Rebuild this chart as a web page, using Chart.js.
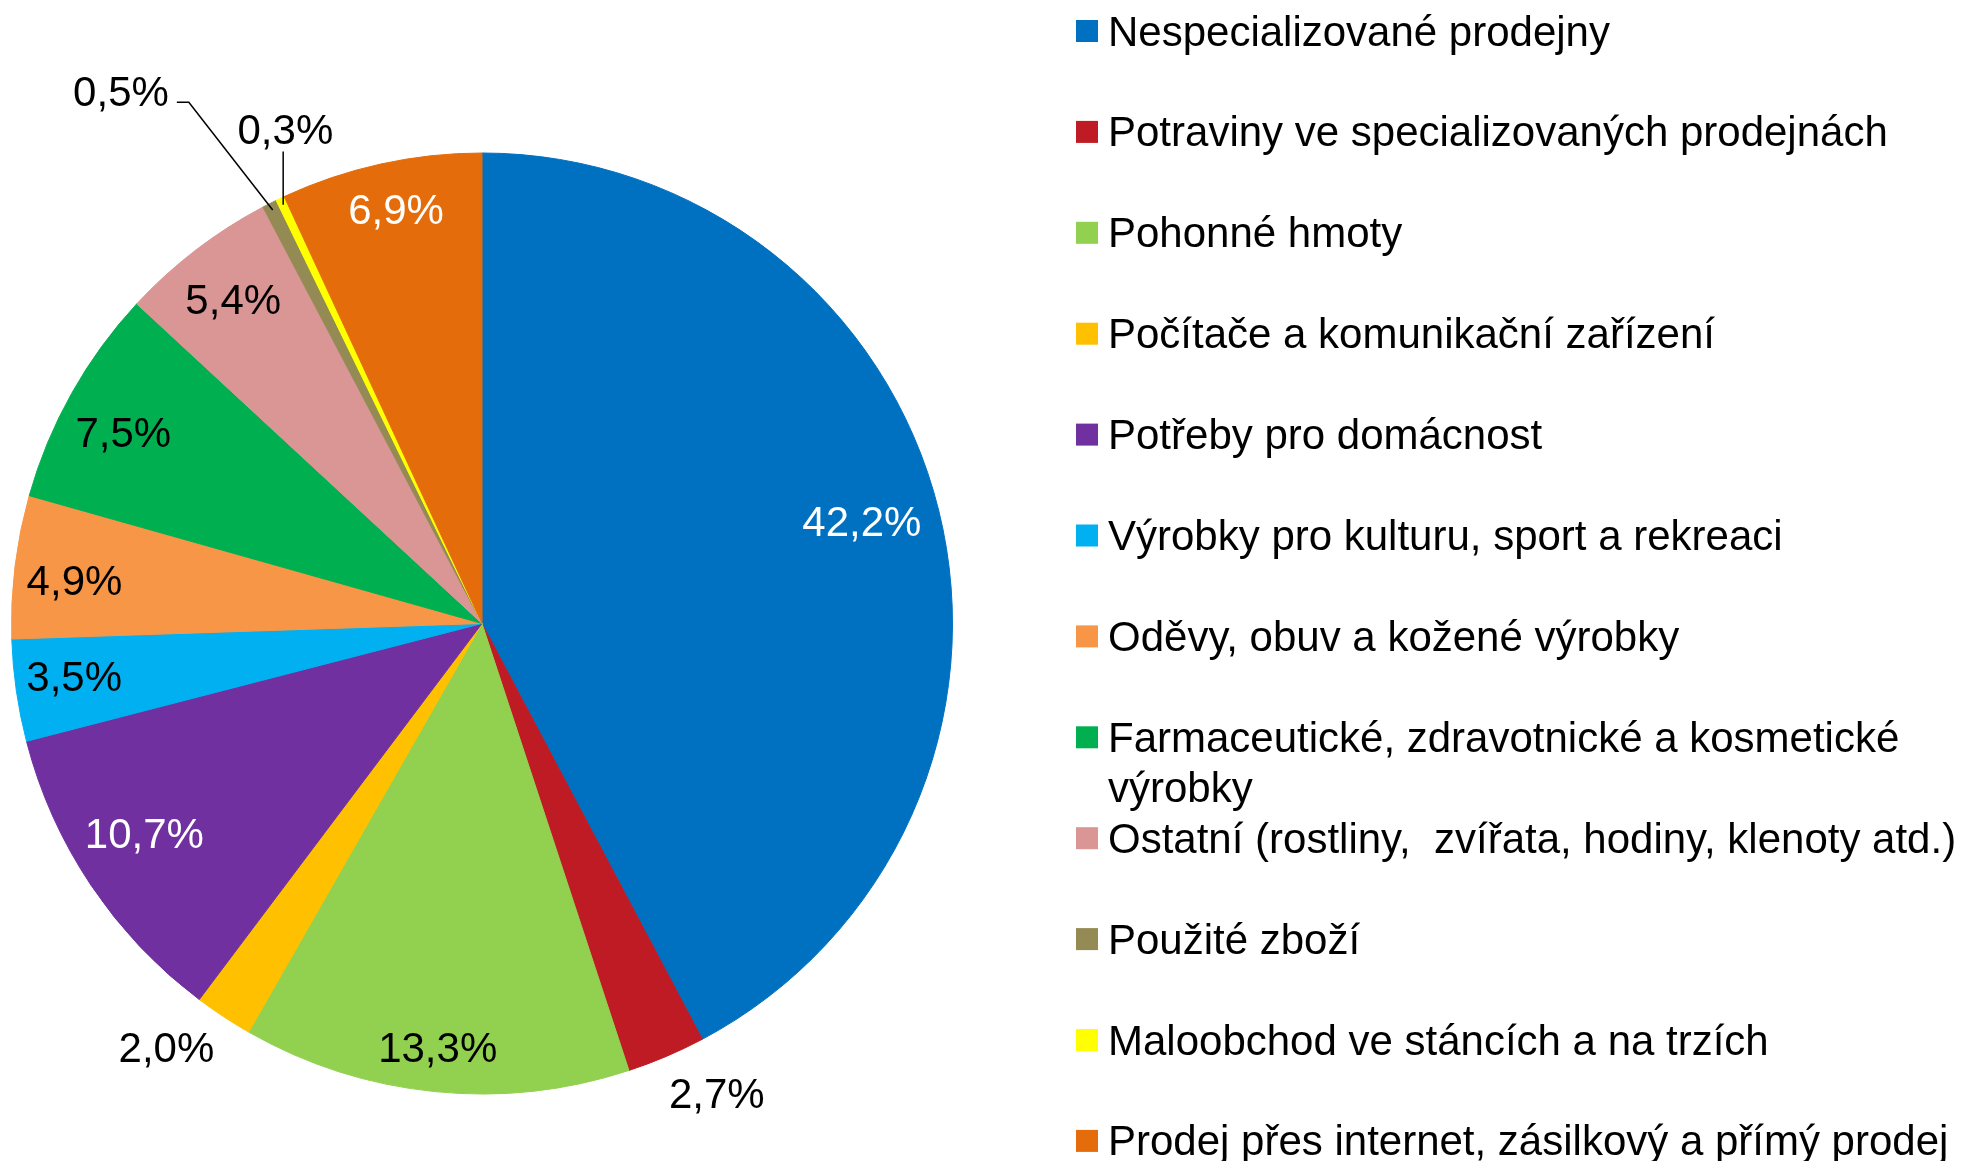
<!DOCTYPE html>
<html lang="cs">
<head>
<meta charset="UTF-8">
<title>Struktura maloobchodu</title>
<script src="https://cdn.jsdelivr.net/npm/chart.js"></script>
<style>
  body { margin: 0; background: #fff; }
  #wrap { width: 1979px; height: 1161px; }
</style>
</head>
<body>
<div id="wrap"><canvas id="pie" width="1979" height="1161"></canvas></div>
<script>
// data
const categories = [
    'Nespecializované prodejny',
    'Potraviny ve specializovaných prodejnách',
    'Pohonné hmoty',
    'Počítače a komunikační zařízení',
    'Potřeby pro domácnost',
    'Výrobky pro kulturu, sport a rekreaci',
    'Oděvy, obuv a kožené výrobky',
    'Farmaceutické, zdravotnické a kosmetické výrobky',
    'Ostatní (rostliny,  zvířata, hodiny, klenoty atd.)',
    'Použité zboží',
    'Maloobchod ve stáncích a na trzích',
    'Prodej přes internet, zásilkový a přímý prodej'
];
const shares = [42.2, 2.7, 13.3, 2.0, 10.7, 3.5, 4.9, 7.5, 5.4, 0.5, 0.3, 6.9];

// styles
const colors = ['#0070C0', '#BE1B24', '#92D050', '#FFC000', '#7030A0', '#00B0F0',
                '#F79646', '#00B050', '#D99694', '#948A54', '#FFFF00', '#E46C0A'];
const labelColors = ['#fff', '#000', '#000', '#000', '#fff', '#000',
                     '#000', '#000', '#000', '#000', '#000', '#fff'];
const labelShift = [-1.1, -3.5, 0.2, 3.3, 1.9, 0.8, -0.9, -1.2, 0, -7.3, 3.7, 0.7]; // deg
const labelRadius = [0.836, 1.116, 0.906, 1.124, 0.845, 0.874, 0.871, 0.864, 0.869, 1.367, 1.13, 0.898];
const leader = [null, null, null, null, null, null, null, null, null, 'elbow', 'vertical', null];
const FONT = '42px "Liberation Sans", Arial, sans-serif';
const TEXT_DY = 3; // nudge glyphs down a little, 'middle' sits slightly high

function fmt(v) {
    return v.toFixed(1).replace('.', ',') + '%';
}

const sliceLabels = {
    id: 'sliceLabels',
    afterDatasetsDraw(chart) {
        const ctx = chart.ctx;
        const meta = chart.getDatasetMeta(0);
        ctx.save();
        ctx.font = FONT;
        ctx.textAlign = 'center';
        ctx.textBaseline = 'middle';
        meta.data.forEach((arc, i) => {
            const p = arc.getProps(['x', 'y', 'startAngle', 'endAngle', 'outerRadius'], true);
            const mid = (p.startAngle + p.endAngle) / 2;
            const a = mid + labelShift[i] * Math.PI / 180;
            const tx = p.x + Math.cos(a) * p.outerRadius * labelRadius[i];
            const ty = p.y + Math.sin(a) * p.outerRadius * labelRadius[i];
            const txt = fmt(shares[i]);
            const ax = p.x + Math.cos(mid) * p.outerRadius * 0.985;
            const ay = p.y + Math.sin(mid) * p.outerRadius * 0.985;
            ctx.strokeStyle = '#000';
            ctx.lineWidth = 1.5;
            if (leader[i] === 'elbow') {
                const right = tx + ctx.measureText(txt).width / 2;
                ctx.beginPath();
                ctx.moveTo(right + 8, ty + 11);
                ctx.lineTo(right + 20, ty + 11);
                ctx.lineTo(ax, ay);
                ctx.stroke();
            } else if (leader[i] === 'vertical') {
                ctx.beginPath();
                ctx.moveTo(ax, ay);
                ctx.lineTo(ax, ty + 22);
                ctx.stroke();
            }
            ctx.fillStyle = labelColors[i];
            ctx.fillText(txt, tx, ty + TEXT_DY);
        });
        ctx.restore();
    }
};

// legend on the right, fixed row pitch like the original
const sideLegend = {
    id: 'sideLegend',
    afterDraw(chart) {
        const ctx = chart.ctx;
        const boxX = 1076, textX = 1108, top = 31, pitch = 100.9, box = 22, maxW = 868;
        ctx.save();
        ctx.font = FONT;
        ctx.textAlign = 'left';
        ctx.textBaseline = 'middle';
        categories.forEach((name, i) => {
            const y = top + i * pitch;
            ctx.fillStyle = colors[i];
            ctx.fillRect(boxX, y - box / 2, box, box);
            ctx.fillStyle = '#000';
            // wrap long names
            const words = name.split(' ');
            let line = '', lines = [];
            words.forEach(w => {
                const test = line ? line + ' ' + w : w;
                if (ctx.measureText(test).width > maxW && line) {
                    lines.push(line);
                    line = w;
                } else {
                    line = test;
                }
            });
            lines.push(line);
            lines.forEach((l, k) => ctx.fillText(l, textX, y + TEXT_DY + k * 50.5));
        });
        ctx.restore();
    }
};

new Chart(document.getElementById('pie'), {
    type: 'pie',
    data: {
        labels: categories,
        datasets: [{
            data: shares,
            backgroundColor: colors,
            borderColor: colors,
            borderWidth: 1,
            hoverOffset: 0
        }]
    },
    options: {
        responsive: false,
        animation: false,
        layout: { padding: { left: 11, top: 152, right: 1026, bottom: 66 } },
        plugins: {
            legend: { display: false },
            tooltip: { enabled: false }
        }
    },
    plugins: [sliceLabels, sideLegend]
});
</script>
</body>
</html>
